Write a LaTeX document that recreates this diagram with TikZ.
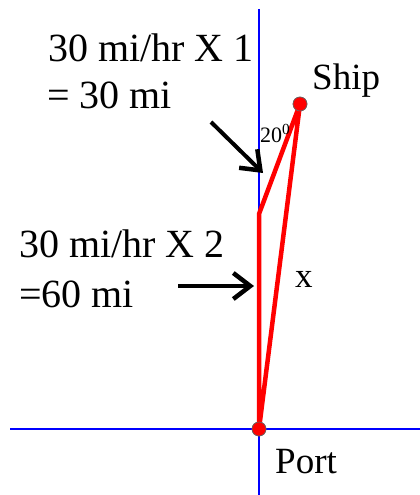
\documentclass[tikz,border=0pt]{standalone}
\usepackage{fontspec}
\setmainfont{Liberation Serif}
\usetikzlibrary{arrows.meta}
\begin{document}
\begin{tikzpicture}[x=1pt,y=-1pt,
  axis/.style={blue,line width=2pt},
  route/.style={red,line width=4.5pt,line join=round,line cap=round},
  dot/.style={circle,fill=red,draw=black!60,line width=0.6pt,minimum size=14pt,inner sep=0pt},
  pointer/.style={line width=4pt,-{Straight Barb[length=17pt 0 0,width=26pt 0 0,line width=4.5pt]}},
  big/.style={anchor=base west,inner sep=0pt,font=\fontsize{40}{46}\selectfont},
  mid/.style={anchor=base west,inner sep=0pt,font=\fontsize{37}{42}\selectfont}]
\useasboundingbox (0,0) rectangle (420,495);
% axes
\coordinate (vtop) at (259,9);
\coordinate (vbot) at (259,495);
\coordinate (hl) at (10,429);
\coordinate (hr) at (420,429);
\draw[axis] (vtop) -- (vbot);
\draw[axis] (hl) -- (hr);
% points
\coordinate (bend) at (259,214);
\node[dot] (port) at (259,429) {};
\node[dot] (ship) at (300,104) {};
\draw[route] (port.center) -- (bend) -- (ship.center) -- cycle;
\node[dot] at (port.center) {};
\node[dot] at (ship.center) {};
% labels
\node[mid] (shiplbl) at (312,89) {Ship};
\node[mid] (portlbl) at (275,473) {Port};
\node[anchor=base west,inner sep=0pt,font=\fontsize{35}{40}\selectfont] (xlbl) at (295,287) {x};
\node[anchor=base west,inner sep=0pt,font=\fontsize{22}{26}\selectfont] (ang) at (260,142) {20\textsuperscript{0}};
\node[big] (t1a) at (48,62) {30 mi/hr X 1};
\node[big] (t1b) at (47,108) {= 30 mi};
\node[big] (t2a) at (19,257) {30 mi/hr X 2};
\node[big] (t2b) at (19,307) {=60 mi};
% arrows
\coordinate (a1s) at (211,122);
\coordinate (a1e) at (263,173);
\coordinate (a2s) at (178,286);
\coordinate (a2e) at (254,286);
\draw[pointer] (a1s) -- (a1e);
\draw[pointer] (a2s) -- (a2e);
\end{tikzpicture}
\end{document}
